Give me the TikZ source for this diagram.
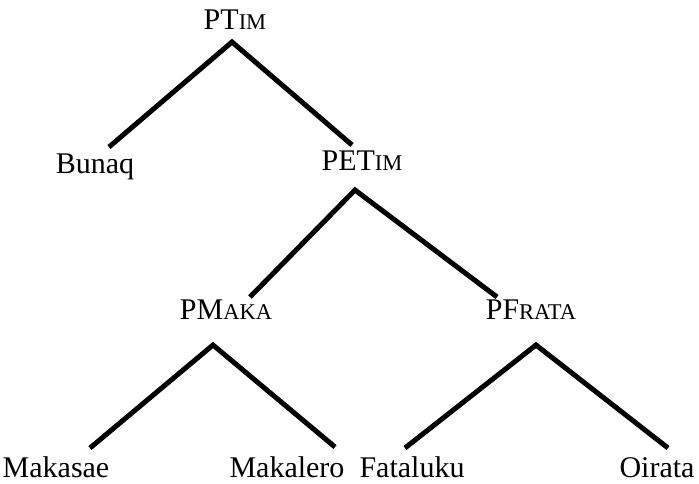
\documentclass[tikz,border=0pt]{standalone}
\usepackage{fontspec}
\setmainfont{Liberation Serif}
\newcommand\smc[1]{{\fontsize{22.5}{23}\selectfont #1}}
\begin{document}
\begin{tikzpicture}[x=1pt,y=-1pt,
  lbl/.style={anchor=base,inner sep=0pt,font=\fontsize{30}{32}\selectfont},
  edge/.style={line width=5pt}]
\useasboundingbox (0,0) rectangle (699,483);
% labels
\node[lbl] (ptim) at (235,29) {PT\smc{IM}};
\node[lbl] (bunaq) at (95,173) {Bunaq};
\node[lbl] (petim) at (362,170) {PET\smc{IM}};
\node[lbl] (pmaka) at (226,319) {PM\smc{AKA}};
\node[lbl] (pfrata) at (531,319) {PF\smc{RATA}};
\node[lbl] (makasae) at (56,477) {Makasae};
\node[lbl] (makalero) at (287,477) {Makalero};
\node[lbl] (fataluku) at (412,477) {Fataluku};
\node[lbl] (oirata) at (657,477) {Oirata};
% connector ends
\coordinate (t0) at (232,42);
\coordinate (b1) at (109,147);
\coordinate (e1) at (352,145);
\coordinate (e0) at (355,190);
\coordinate (m1) at (250,297);
\coordinate (f1) at (497,297);
\coordinate (m0) at (213,345);
\coordinate (mk1) at (90,448);
\coordinate (ml1) at (335,447);
\coordinate (f0) at (536,345);
\coordinate (fa1) at (405,448);
\coordinate (oi1) at (668,448);
\draw[edge] (b1) -- (t0) -- (e1);
\draw[edge] (m1) -- (e0) -- (f1);
\draw[edge] (mk1) -- (m0) -- (ml1);
\draw[edge] (fa1) -- (f0) -- (oi1);
\end{tikzpicture}
\end{document}
